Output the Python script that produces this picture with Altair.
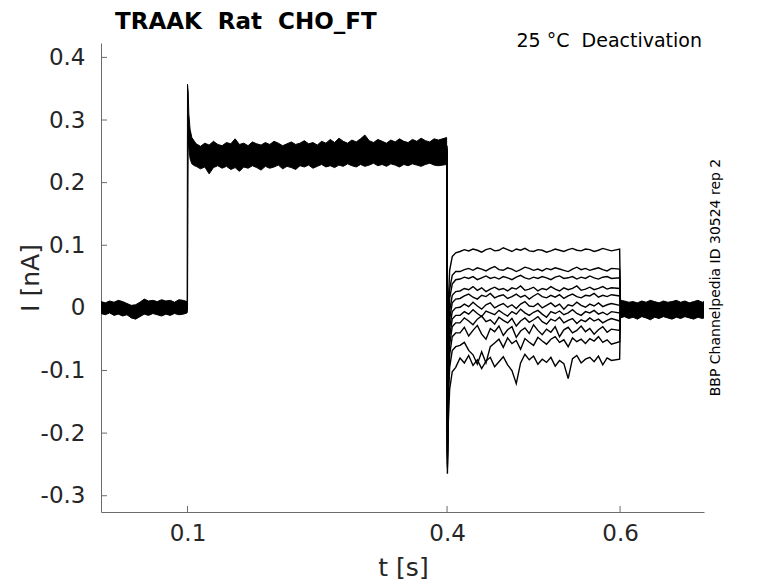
import altair as alt
import pandas as pd

# ---------------- text ----------------
TITLE = "TRAAK\u00a0 Rat\u00a0 CHO_FT"
SUBTITLE = "25 \u00b0C\u00a0 Deactivation"
SIDE = "BBP Channelpedia ID 30524 rep 2"
X_TITLE = "t [s]"
Y_TITLE = "I [nA]"
X_TICKS = [0.1, 0.4, 0.6]
Y_TICKS = [-0.3, -0.2, -0.1, 0, 0.1, 0.2, 0.3, 0.4]
X_DOMAIN = [0.0, 0.697]
Y_DOMAIN = [-0.326, 0.423]

# ------------- dense band (overlapping sweeps), holding + step -------------
PRE_T = [0.000, 0.005, 0.010, 0.015, 0.020, 0.025, 0.030, 0.035, 0.040, 0.045,
         0.050, 0.055, 0.060, 0.065, 0.070, 0.075, 0.080, 0.085, 0.090, 0.095,
         0.0995]
PRE_HI = [0.010, 0.008, 0.011, 0.009, 0.012, 0.010, 0.007, 0.004, 0.005, 0.009,
          0.014, 0.011, 0.012, 0.010, 0.013, 0.011, 0.012, 0.009, 0.013, 0.012,
          0.010]
PRE_LO = [-0.009, -0.011, -0.008, -0.012, -0.010, -0.013, -0.011, -0.016, -0.018, -0.014,
          -0.010, -0.012, -0.009, -0.011, -0.013, -0.010, -0.012, -0.009, -0.011, -0.010,
          -0.008]

STEP_T = [0.1000, 0.1008, 0.1015, 0.1030, 0.1050, 0.1080]
STEP_HI = [0.357, 0.345, 0.310, 0.285, 0.272, 0.266]
STEP_LO = [-0.004, 0.275, 0.255, 0.238, 0.230, 0.227]

PL_T = [0.110, 0.115, 0.120, 0.125, 0.130, 0.135, 0.140, 0.145, 0.150, 0.155,
        0.160, 0.165, 0.170, 0.175, 0.180, 0.185, 0.190, 0.195, 0.200, 0.205,
        0.210, 0.215, 0.220, 0.225, 0.230, 0.235, 0.240, 0.245, 0.250, 0.255,
        0.260, 0.265, 0.270, 0.275, 0.280, 0.285, 0.290, 0.295, 0.300, 0.305,
        0.310, 0.315, 0.320, 0.325, 0.330, 0.335, 0.340, 0.345, 0.350, 0.355,
        0.360, 0.365, 0.370, 0.375, 0.380, 0.385, 0.390, 0.3995]
PL_HI = [0.262, 0.258, 0.263, 0.260, 0.266, 0.261, 0.259, 0.264, 0.262, 0.270,
         0.261, 0.263, 0.259, 0.265, 0.262, 0.260, 0.264, 0.261, 0.266, 0.263,
         0.259, 0.262, 0.265, 0.261, 0.263, 0.267, 0.262, 0.264, 0.260, 0.266,
         0.263, 0.269, 0.264, 0.271, 0.266, 0.263, 0.268, 0.265, 0.270, 0.276,
         0.267, 0.264, 0.269, 0.266, 0.263, 0.268, 0.265, 0.270, 0.266, 0.264,
         0.269, 0.266, 0.271, 0.267, 0.265, 0.270, 0.268, 0.272]
PL_LO = [0.226, 0.222, 0.225, 0.214, 0.224, 0.227, 0.223, 0.226, 0.221, 0.224,
         0.218, 0.225, 0.223, 0.227, 0.224, 0.220, 0.226, 0.223, 0.225, 0.228,
         0.222, 0.226, 0.224, 0.221, 0.227, 0.225, 0.228, 0.223, 0.226, 0.229,
         0.225, 0.227, 0.224, 0.228, 0.226, 0.230, 0.227, 0.225, 0.229, 0.226,
         0.228, 0.231, 0.227, 0.229, 0.226, 0.230, 0.228, 0.225, 0.229, 0.227,
         0.230, 0.228, 0.226, 0.229, 0.231, 0.228, 0.227, 0.229]

# ------------- dense band after return to holding -------------
POST_T = [0.600, 0.605, 0.610, 0.615, 0.620, 0.625, 0.630, 0.635, 0.640, 0.645,
          0.650, 0.655, 0.660, 0.665, 0.670, 0.675, 0.680, 0.685, 0.690, 0.695,
          0.697]
POST_HI = [0.012, 0.011, 0.009, 0.010, 0.008, 0.011, 0.009, 0.012, 0.010, 0.008,
           0.011, 0.009, 0.010, 0.012, 0.009, 0.011, 0.008, 0.010, 0.012, 0.009,
           0.010]
POST_LO = [-0.016, -0.014, -0.017, -0.015, -0.018, -0.014, -0.016, -0.019, -0.015, -0.017,
           -0.014, -0.016, -0.018, -0.015, -0.017, -0.014, -0.016, -0.018, -0.015, -0.017,
           -0.016]

# ------------- individual tail sweeps (0.4 s - 0.6 s) -------------
TAIL_START = [0.252, 0.238, 0.247, 0.259, 0.243, 0.250, 0.236, 0.255, 0.245, 0.241, 0.249]
TAIL_DIP = [-0.17, -0.19, -0.20, -0.21, -0.22, -0.23, -0.235, -0.24, -0.25, -0.255, -0.265]
RISE_T = [0.4015, 0.4030, 0.4060, 0.4100]
TAIL_RISE = [
    [0.010, 0.060, 0.082, 0.088],
    [-0.020, 0.030, 0.052, 0.058],
    [-0.035, 0.015, 0.038, 0.045],
    [-0.055, -0.005, 0.020, 0.026],
    [-0.065, -0.018, 0.008, 0.014],
    [-0.080, -0.032, -0.006, 0.000],
    [-0.095, -0.045, -0.018, -0.012],
    [-0.110, -0.058, -0.030, -0.024],
    [-0.125, -0.075, -0.046, -0.040],
    [-0.145, -0.095, -0.068, -0.062],
    [-0.180, -0.130, -0.102, -0.095],
]
MID_T = [0.415, 0.420, 0.425, 0.430, 0.435, 0.440, 0.445, 0.450, 0.455, 0.460,
         0.465, 0.470, 0.475, 0.480, 0.485, 0.490, 0.495, 0.500, 0.505, 0.510,
         0.515, 0.520, 0.525, 0.530, 0.535, 0.540, 0.545, 0.550, 0.555, 0.560,
         0.565, 0.570, 0.575, 0.580, 0.585, 0.590, 0.5995]
TAIL_MID = [
    [0.090, 0.093, 0.091, 0.094, 0.092, 0.089, 0.093, 0.095, 0.091, 0.092,
     0.096, 0.093, 0.090, 0.094, 0.092, 0.095, 0.091, 0.090, 0.093, 0.092,
     0.089, 0.091, 0.094, 0.092, 0.090, 0.093, 0.095, 0.092, 0.091, 0.094,
     0.093, 0.090, 0.092, 0.095, 0.093, 0.091, 0.094],
    [0.058, 0.061, 0.063, 0.060, 0.064, 0.062, 0.059, 0.063, 0.066, 0.061,
     0.060, 0.064, 0.062, 0.058, 0.061, 0.065, 0.063, 0.060, 0.062, 0.059,
     0.063, 0.061, 0.064, 0.062, 0.060, 0.058, 0.062, 0.065, 0.061, 0.063,
     0.060, 0.062, 0.064, 0.061, 0.059, 0.063, 0.062],
    [0.046, 0.049, 0.047, 0.050, 0.045, 0.048, 0.051, 0.047, 0.049, 0.046,
     0.050, 0.048, 0.045, 0.049, 0.052, 0.048, 0.046, 0.049, 0.047, 0.050,
     0.048, 0.045, 0.049, 0.051, 0.047, 0.048, 0.050, 0.046, 0.049, 0.047,
     0.051, 0.048, 0.046, 0.049, 0.050, 0.047, 0.048],
    [0.027, 0.031, 0.029, 0.034, 0.028, 0.032, 0.026, 0.030, 0.033, 0.029,
     0.031, 0.027, 0.032, 0.030, 0.035, 0.028, 0.030, 0.033, 0.027, 0.031,
     0.029, 0.034, 0.030, 0.027, 0.032, 0.029, 0.031, 0.035, 0.028, 0.030,
     0.033, 0.029, 0.031, 0.034, 0.030, 0.032, 0.031],
    [0.015, 0.019, 0.022, 0.017, 0.014, 0.020, 0.018, 0.023, 0.016, 0.019,
     0.021, 0.015, 0.018, 0.022, 0.017, 0.020, 0.014, 0.019, 0.023, 0.018,
     0.016, 0.020, 0.017, 0.021, 0.015, 0.019, 0.022, 0.018, 0.016, 0.020,
     0.019, 0.023, 0.017, 0.020, 0.018, 0.021, 0.019],
    [0.001, 0.006, 0.002, 0.009, 0.003, -0.002, 0.005, 0.008, 0.000, 0.004,
     0.007, 0.001, 0.005, -0.001, 0.006, 0.010, 0.003, 0.002, 0.007, 0.000,
     0.004, 0.008, 0.002, 0.006, -0.002, 0.005, 0.003, 0.009, 0.004, 0.001,
     0.006, 0.003, 0.008, 0.002, 0.005, 0.007, 0.004],
    [-0.012, -0.006, -0.010, -0.003, -0.009, -0.014, -0.005, -0.008, -0.011, -0.004,
     -0.009, -0.013, -0.006, -0.010, -0.002, -0.008, -0.012, -0.007, -0.004, -0.010,
     -0.015, -0.006, -0.009, -0.005, -0.011, -0.008, -0.003, -0.009, -0.012, -0.006,
     -0.008, -0.004, -0.010, -0.007, -0.011, -0.006, -0.008],
    [-0.024, -0.016, -0.021, -0.027, -0.018, -0.013, -0.022, -0.019, -0.026, -0.015,
     -0.020, -0.024, -0.017, -0.029, -0.021, -0.016, -0.023, -0.019, -0.014, -0.022,
     -0.026, -0.018, -0.021, -0.015, -0.024, -0.020, -0.017, -0.025, -0.019, -0.022,
     -0.016, -0.021, -0.018, -0.024, -0.020, -0.017, -0.021],
    [-0.040, -0.031, -0.045, -0.036, -0.028, -0.042, -0.050, -0.033, -0.038, -0.029,
     -0.044, -0.035, -0.030, -0.047, -0.037, -0.032, -0.041, -0.027, -0.036, -0.043,
     -0.034, -0.039, -0.030, -0.046, -0.035, -0.031, -0.040, -0.036, -0.029, -0.038,
     -0.033, -0.042, -0.035, -0.030, -0.039, -0.034, -0.036],
    [-0.060, -0.055, -0.068, -0.075, -0.090, -0.070, -0.088, -0.062, -0.056, -0.050,
     -0.063, -0.048, -0.057, -0.052, -0.066, -0.049, -0.055, -0.060, -0.047, -0.053,
     -0.058, -0.050, -0.046, -0.055, -0.051, -0.062, -0.048, -0.054, -0.050, -0.057,
     -0.049, -0.053, -0.046, -0.055, -0.051, -0.058, -0.054],
    [-0.080, -0.088, -0.076, -0.092, -0.083, -0.097, -0.085, -0.079, -0.094, -0.086,
     -0.078, -0.091, -0.100, -0.121, -0.088, -0.074, -0.083, -0.077, -0.090, -0.082,
     -0.087, -0.079, -0.093, -0.084, -0.089, -0.113, -0.081, -0.076, -0.088, -0.082,
     -0.079, -0.086, -0.077, -0.091, -0.080, -0.084, -0.082],
]
TAIL_END = [-0.002, 0.003, -0.004, 0.001, -0.006, 0.002, -0.003, 0.004, -0.005, 0.000, -0.002]

# ---------------- tables ----------------
band = pd.DataFrame({
    "t": PRE_T + STEP_T + PL_T,
    "hi": PRE_HI + STEP_HI + PL_HI,
    "lo": PRE_LO + STEP_LO + PL_LO,
})
post = pd.DataFrame({"t": POST_T, "hi": POST_HI, "lo": POST_LO})

rows = []
for s in range(len(TAIL_MID)):
    ts = [0.400, 0.4004] + RISE_T + MID_T + [0.6005]
    vs = [TAIL_START[s], TAIL_DIP[s]] + TAIL_RISE[s] + TAIL_MID[s] + [TAIL_END[s]]
    for k, (t, v) in enumerate(zip(ts, vs)):
        rows.append({"sweep": s, "k": k, "t": t, "I": v})
tail = pd.DataFrame(rows)

AX = "#6b6b6b"
FONT = "DejaVu Sans"

x_axis = alt.Axis(values=X_TICKS, labelExpr="'' + datum.value", ticks=False, tickSize=0,
                  labelPadding=10, title=X_TITLE, titleX=302, titleY=55,
                  titleAlign="center", titleBaseline="middle", domainColor=AX)
y_axis = alt.Axis(values=Y_TICKS, labelExpr="'' + datum.value", ticks=False, tickSize=0,
                  labelPadding=16, title=Y_TITLE, titleX=-71, titleY=234.5, titleAngle=270,
                  titleAlign="center", titleBaseline="middle", domainColor=AX)


def xenc(field):
    return alt.X(f"{field}:Q", scale=alt.Scale(domain=X_DOMAIN, nice=False, zero=False), axis=x_axis)


def yenc(field):
    return alt.Y(f"{field}:Q", scale=alt.Scale(domain=Y_DOMAIN, nice=False, zero=False), axis=y_axis)


band_layer = alt.Chart(band).mark_area(color="black", stroke="black", strokeWidth=1, clip=True).encode(
    x=xenc("t"), y=yenc("hi"), y2="lo:Q")
post_layer = alt.Chart(post).mark_area(color="black", stroke="black", strokeWidth=1, clip=True).encode(
    x=xenc("t"), y=yenc("hi"), y2="lo:Q")
tail_layer = alt.Chart(tail).mark_line(color="black", strokeWidth=1.4, clip=True).encode(
    x=xenc("t"), y=yenc("I"), detail="sweep:N", order="k:Q")

ytick_layer = alt.Chart(pd.DataFrame({"I": Y_TICKS})).mark_rule(color=AX, strokeWidth=1).encode(
    y=yenc("I"), x=alt.value(0), x2=alt.value(6))
xtick_layer = alt.Chart(pd.DataFrame({"t": X_TICKS})).mark_rule(color=AX, strokeWidth=1).encode(
    x=xenc("t"), y=alt.value(469), y2=alt.value(463))

title_layer = alt.Chart(pd.DataFrame({"label": [TITLE]})).mark_text(
    font=FONT, fontSize=23, fontWeight="bold", align="left", baseline="alphabetic", color="black"
).encode(text="label:N", x=alt.value(14), y=alt.value(-14))
sub_layer = alt.Chart(pd.DataFrame({"label": [SUBTITLE]})).mark_text(
    font=FONT, fontSize=19, align="right", baseline="alphabetic", color="black"
).encode(text="label:N", x=alt.value(601), y=alt.value(4))
side_layer = alt.Chart(pd.DataFrame({"label": [SIDE]})).mark_text(
    font=FONT, fontSize=14, align="center", baseline="middle", angle=270, color="black"
).encode(text="label:N", x=alt.value(615), y=alt.value(234.5))

chart = alt.layer(
    ytick_layer, xtick_layer, band_layer, post_layer, tail_layer, title_layer, sub_layer, side_layer
).properties(
    width=603, height=469,
    autosize=alt.AutoSizeParams(type="none"),
    padding={"left": 93, "top": 35, "right": 52, "bottom": 70},
).configure_view(stroke=None).configure_axis(
    grid=False, labelFont=FONT, labelFontSize=23, labelColor="#262626",
    titleFont=FONT, titleFontSize=25, titleFontWeight="normal", titleColor="#262626",
    domainWidth=1,
)

chart.save("out.html", embed_options={"renderer": "svg", "actions": False})
